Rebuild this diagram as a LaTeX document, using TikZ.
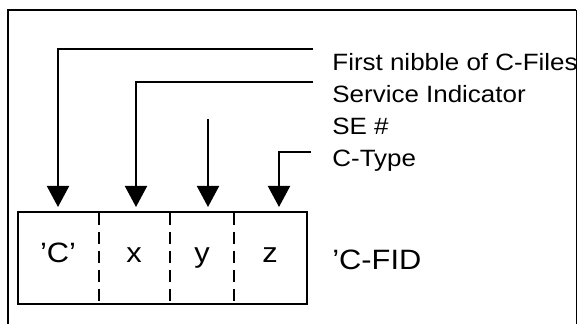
\documentclass[tikz,border=0pt]{standalone}
\usepackage{fontspec}
\setmainfont{Liberation Sans}[FakeStretch=1.1]
\usetikzlibrary{arrows.meta}
\tikzset{
  lbl/.style={anchor=base west, inner sep=0pt, font=\fontsize{11.8}{14}\selectfont},
  cell/.style={anchor=base, inner sep=0pt, font=\fontsize{14}{17}\selectfont},
  arr/.style={line width=1pt, -{Triangle[length=10.5pt, width=11pt]}},
}
\begin{document}
\begin{tikzpicture}[x=0.5pt, y=-0.5pt]
  \useasboundingbox (0,0) rectangle (579,324);
  \draw[line width=1pt] (8,324) -- (8,10) -- (576,10);
  \draw[line width=0.5pt] (576,10) -- (576,324);
  % field box
  \draw[line width=1pt] (18,212) rectangle (307,304);
  \foreach \x in {99,170,234}
    \draw[line width=1pt, dash pattern=on 6pt off 3.5pt] (\x,213) -- (\x,304);
  \foreach \n/\x/\t in {cC/58/'C', cX/134/x, cY/202/y, cZ/270/z}
    \node[cell] (\n) at (\x,263) {\t};
  \node[cell, anchor=base west] (fid) at (332,270) {'C-FID};
  % labels
  \foreach \n/\y/\t in {nib/71/First nibble of C-Files, svc/103/Service Indicator,
                        se/135/SE \#, typ/167/C-Type}
    \node[lbl] (\n) at (332,\y) {\t};
  % arrows
  \coordinate (sNib) at (313,49);  \coordinate (tC) at (58,207);
  \coordinate (sSvc) at (313,82);  \coordinate (tX) at (136,207);
  \coordinate (sSe)  at (208,119); \coordinate (tY) at (208,207);
  \coordinate (sTyp) at (311,152); \coordinate (tZ) at (279,207);
  \draw[arr] (sNib) -| (tC);
  \draw[arr] (sSvc) -| (tX);
  \draw[arr] (sSe) -- (tY);
  \draw[arr] (sTyp) -| (tZ);
\end{tikzpicture}
\end{document}
